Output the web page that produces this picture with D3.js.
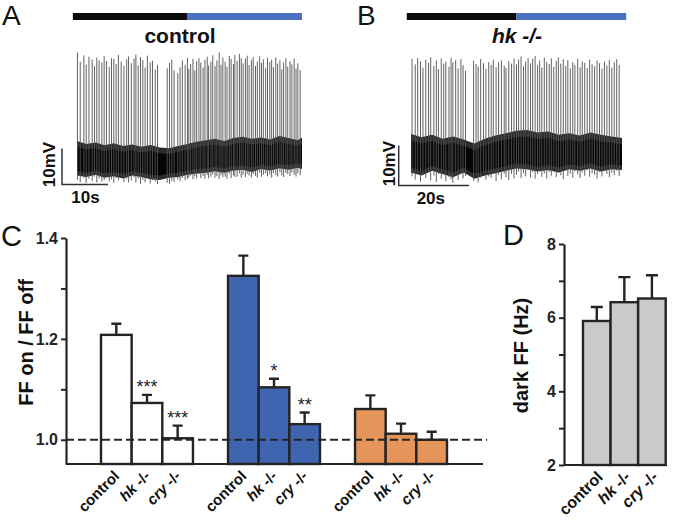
<!DOCTYPE html>
<html><head><meta charset="utf-8">
<script src="https://cdn.jsdelivr.net/npm/d3@7"></script>
<style>
html,body{margin:0;padding:0;background:#fff;}
svg{display:block;font-family:"Liberation Sans",Arial,Helvetica,sans-serif;}
</style></head><body>
<svg id="fig" width="678" height="522"></svg>
<script>
// ---------------- DATA ----------------
// Panel A (control) recording: time in s, membrane potential in mV (relative)
const stimA = [{phase: 'dark', start: -0.9, end: 23.9}, {phase: 'light', start: 23.9, end: 48.9}];
const bandTimesA = [0,2,4,6,8,10,12,14,16,18,20,22,24,26,28,30,32,34,36,38,40,42,44,46,48,48.9];
const bandTopA = [5.0,4.2,4.6,3.8,4.4,3.6,4.0,3.4,3.9,3.2,3.0,3.6,4.2,4.8,5.2,5.6,5.0,5.8,6.2,5.6,6.0,5.4,6.4,5.8,5.2,6.0];
const bandBottomA = [-4.6,-5.0,-4.4,-5.2,-4.8,-5.4,-4.6,-5.0,-5.6,-5.8,-5.2,-5.0,-4.4,-4.0,-3.8,-3.4,-3.8,-3.2,-3.0,-3.6,-2.8,-3.2,-2.6,-3.0,-2.4,-2.8];
const spikeTimesA = [0.1,0.7,1.5,2.0,2.6,3.3,3.8,4.3,4.8,5.4,5.9,6.4,7.0,7.5,8.0,8.5,9.0,9.6,10.2,10.8,11.2,11.8,12.4,12.8,13.3,13.8,14.3,14.8,15.3,15.9,16.4,17.0,17.5,19.6,20.1,20.6,21.1,21.9,22.4,22.9,23.5,24.0,
  24.3,24.7,25.2,25.6,26.0,26.5,26.9,27.4,27.8,28.3,28.6,29.1,29.5,30.0,30.4,30.9,31.3,31.7,32.2,32.6,33.1,33.5,34.0,34.3,34.8,35.3,35.7,36.1,36.6,37.0,37.4,37.9,38.3,38.8,39.2,39.7,40.1,40.5,41.0,41.4,41.9,42.3,42.7,43.2,43.6,44.1,44.5,44.9,45.4,45.8,46.3,46.7,47.2,47.6,48.0,48.5];
const spikePeaksA = [29.6,27.0,28.8,26.2,28.4,27.6,25.8,28.2,27.4,26.8,28.6,27.2,25.6,28.0,27.8,26.4,28.9,27.1,25.9,27.7,28.5,26.6,27.9,29.0,26.0,28.3,27.5,25.4,28.7,26.9,27.3,24.8,26.1,25.2,26.7,27.6,24.6,23.8,25.5,27.4,26.2,28.1,
  25.0,26.4,27.8,24.6,27.2,28.0,26.8,25.4,27.6,28.4,26.0,27.0,28.8,25.8,27.4,29.6,26.2,28.2,27.0,25.6,28.6,27.8,26.4,28.9,27.3,29.2,28.0,26.6,27.9,28.7,26.1,27.5,28.3,25.9,27.1,28.5,26.7,27.7,25.3,28.1,26.9,27.6,25.5,28.2,26.5,27.4,24.9,26.8,28.0,25.7,27.2,26.3,27.9,25.1,26.6,24.7];
const spikeTroughsA = [-5.8,-6.4,-5.2,-6.6,-5.5,-6.1,-4.9,-6.5,-5.4,-6.3,-5.9,-5.0,-6.2,-5.6,-6.6,-5.3,-6.0,-4.8,-6.4,-5.5,-6.5,-6.0,-5.1,-6.6,-5.4,-6.9,-5.8,-6.5,-5.2,-6.8,-5.9,-6.3,-7.0,-6.6,-6.9,-6.1,-6.4,-5.7,-6.2,-5.3,-5.9,-5.5,
  -5.2,-4.6,-5.6,-4.8,-5.4,-4.2,-5.3,-4.7,-5.5,-4.4,-5.4,-4.9,-4.3,-5.2,-4.8,-5.6,-4.5,-5.1,-4.9,-5.5,-4.1,-5.3,-4.6,-5.0,-4.9,-4.0,-5.2,-4.4,-5.0,-4.1,-4.6,-5.1,-4.2,-4.7,-5.2,-3.8,-4.9,-4.4,-4.0,-4.8,-4.3,-5.2,-3.9,-4.5,-4.9,-3.7,-4.6,-5.0,-3.9,-4.2,-4.7,-3.8,-4.4,-4.9,-4.0,-4.5];

// Panel B (hk -/-) recording
const stimB = [{phase: 'dark', start: -1.2, end: 30.0}, {phase: 'light', start: 30.0, end: 61.2}];
const bandTimesB = [0,3,6,9,12,15,18,21,24,27,30,33,36,39,42,45,48,51,54,57,60];
const bandTopB = [4.0,3.2,3.8,2.8,3.4,2.6,1.6,2.8,3.6,4.2,4.8,5.0,4.4,4.6,3.8,4.2,3.6,4.4,3.8,3.4,3.0];
const bandBottomB = [-5.6,-6.4,-5.2,-6.0,-6.8,-5.6,-7.2,-6.4,-5.8,-5.2,-4.6,-4.8,-5.4,-5.0,-5.6,-4.8,-5.2,-4.6,-5.4,-4.8,-5.0];
const spikeTimesB = [0.3,1.2,1.9,2.7,3.4,4.2,5.0,5.6,6.5,7.2,7.8,8.6,9.3,9.9,10.8,11.4,11.9,12.7,13.4,14.2,14.8,15.5,17.8,18.5,19.1,19.8,20.6,21.3,22.1,22.8,23.4,24.2,24.9,25.7,26.5,27.0,27.8,28.6,29.3,
  30.0,30.6,31.3,32.0,32.6,33.3,34.0,34.6,35.3,36.0,36.6,37.2,37.9,38.6,39.3,39.9,40.6,41.3,41.9,42.6,43.3,44.0,44.6,45.3,46.0,46.6,47.4,48.1,48.7,49.4,50.1,50.8,51.5,52.2,52.9,53.6,54.3,55.0,55.7,56.4,57.1,57.8,58.5,59.2];
const spikePeaksB = [22.8,21.4,23.0,22.2,20.6,22.6,21.8,23.2,21.0,22.4,20.2,22.9,21.6,22.1,20.8,23.1,21.9,22.5,20.4,22.7,21.2,19.8,22.3,21.5,20.9,22.8,21.7,20.3,22.0,21.3,22.6,20.7,21.9,22.4,21.1,20.5,22.2,21.6,22.9,
  21.4,22.6,23.4,20.9,22.1,23.0,21.7,22.8,23.5,21.2,22.4,20.6,23.1,22.0,21.5,22.9,20.8,22.3,23.2,21.6,22.7,21.0,22.5,20.4,22.0,21.3,22.8,20.7,22.2,21.8,20.5,22.6,21.4,20.9,22.4,21.7,20.3,22.1,21.1,22.5,20.6,21.9,22.7,21.3];
const spikeTroughsB = [-6.6,-7.4,-5.8,-7.9,-6.2,-7.0,-5.6,-7.6,-6.4,-8.0,-6.0,-7.2,-5.4,-7.8,-6.8,-7.3,-8.2,-6.1,-7.5,-5.9,-7.1,-6.5,-7.7,-6.3,-8.1,-6.9,-5.7,-7.4,-6.6,-7.0,-5.5,-7.8,-6.2,-7.3,-5.9,-6.8,-7.5,-6.0,-7.1,
  -6.2,-5.4,-7.0,-5.8,-6.6,-5.1,-6.9,-5.6,-7.2,-6.0,-5.3,-6.7,-5.9,-7.1,-5.5,-6.4,-5.0,-6.8,-5.7,-6.3,-7.3,-5.2,-6.5,-5.9,-6.9,-5.4,-6.1,-7.0,-5.6,-6.4,-5.1,-6.7,-5.8,-6.2,-7.1,-5.5,-6.6,-5.3,-6.0,-6.8,-5.7,-6.3,-5.2,-6.5];

// Panel C: FF on / FF off
const genotypes = ['control', 'hk -/-', 'cry -/-'];
const lightConditions = ['white', 'blue', 'orange'];
const ratioWhite = [1.208, 1.073, 1.003];
const semWhite = [0.022, 0.016, 0.025];
const sigWhite = ['', '***', '***'];
const ratioBlue = [1.325, 1.104, 1.031];
const semBlue = [0.040, 0.017, 0.023];
const sigBlue = ['', '*', '**'];
const ratioOrange = [1.061, 1.012, 1.000];
const semOrange = [0.027, 0.020, 0.016];
const sigOrange = ['', '', ''];
const ticksC = [1.0, 1.1, 1.2, 1.3, 1.4];
const labelledTicksC = [1.0, 1.2, 1.4];

// Panel D: dark firing frequency (Hz)
const darkFF = [5.91, 6.42, 6.52];
const semDarkFF = [0.38, 0.68, 0.63];
const ticksD = [2, 3, 4, 5, 6, 7, 8];
const labelledTicksD = [2, 4, 6, 8];

// ---------------- STYLE ----------------
const INK = '#242424';
const stimColor = {dark: '#0b0b0b', light: '#4a70bf'};
const barColor = {white: '#ffffff', blue: '#3f64b0', orange: '#e5955a'};
const grayBar = '#c9cacc';

const svg = d3.select('#fig');

// ---------------- TRACES ----------------
function drawTrace(o) {
  const g = svg.append('g');
  const x = o.x, y = o.y;
  g.selectAll('rect.stim').data(o.stim).join('rect')
    .attr('x', d => x(d.start)).attr('width', d => x(d.end) - x(d.start))
    .attr('y', 13).attr('height', 7)
    .attr('fill', d => stimColor[d.phase]);
  const t = g.append('text').attr('x', o.titleX).attr('y', 42.5)
    .attr('text-anchor', 'middle').attr('font-size', 21).attr('font-weight', 'bold')
    .attr('fill', '#111').text(o.title);
  if (o.italic) t.attr('font-style', 'italic');
  const band = o.bandT.map((tt, i) => ({t: tt, top: o.bandTop[i], bot: o.bandBot[i]}));
  g.append('path').datum(band)
    .attr('d', d3.area().x(d => x(d.t)).y0(d => y(d.bot)).y1(d => y(d.top)))
    .attr('fill', '#2b2b2b');
  g.append('path').datum(band)
    .attr('d', d3.area().x(d => x(d.t)).y0(d => y(d.bot + 1.2)).y1(d => y(d.top - 1.6)))
    .attr('fill', '#050505');
  const spikes = o.spT.map((tt, i) => ({t: tt, p: o.spP[i], v: o.spV[i]}));
  g.selectAll('line.sp').data(spikes).join('line')
    .attr('x1', d => x(d.t)).attr('x2', d => x(d.t))
    .attr('y1', d => y(d.v)).attr('y2', d => y(d.p))
    .attr('stroke', '#505050').attr('stroke-width', 0.9);
  const sb = o.scale;
  g.append('path')
    .attr('d', `M${x(sb.t0)},${y(sb.v0 + sb.dv)}V${y(sb.v0)}H${x(sb.t0 + sb.dt)}`)
    .attr('fill', 'none').attr('stroke', '#333').attr('stroke-width', 1.5);
  g.append('text')
    .attr('transform', `translate(${x(sb.t0) - o.mvGap},${(y(sb.v0) + y(sb.v0 + sb.dv)) / 2 - 2}) rotate(-90)`)
    .attr('text-anchor', 'middle').attr('font-size', 17).attr('font-weight', 'bold').attr('fill', '#111')
    .text(sb.dv + 'mV');
  g.append('text')
    .attr('x', (x(sb.t0) + x(sb.t0 + sb.dt)) / 2 + o.sGap).attr('y', y(sb.v0) + 18.5)
    .attr('text-anchor', 'middle').attr('font-size', 17).attr('font-weight', 'bold').attr('fill', '#111')
    .text(sb.dt + 's');
}

drawTrace({
  x: d3.scaleLinear().domain([0, 48.9]).range([77, 302]),
  y: d3.scaleLinear().domain([-10, 30]).range([195, 51]),
  stim: stimA, title: 'control', titleX: 180, italic: false,
  bandT: bandTimesA, bandTop: bandTopA, bandBot: bandBottomA,
  spT: spikeTimesA, spP: spikePeaksA, spV: spikeTroughsA,
  scale: {t0: -3.26, v0: -7.1, dt: 10, dv: 10}, mvGap: 7, sGap: 0.5
});
drawTrace({
  x: d3.scaleLinear().domain([0, 60]).range([411, 622]),
  y: d3.scaleLinear().domain([-10, 25]).range([190, 50]),
  stim: stimB, title: 'hk -/-', titleX: 517, italic: true,
  bandT: bandTimesB, bandTop: bandTopB, bandBot: bandBottomB,
  spT: spikeTimesB, spP: spikePeaksB, spV: spikeTroughsB,
  scale: {t0: -3.5, v0: -8.9, dt: 20, dv: 10}, mvGap: 4, sGap: -3
});

// ---------------- PANEL LETTERS ----------------
[['A', 2, 25, 28], ['B', 357, 25, 28], ['C', 1, 246, 29], ['D', 503, 245, 29]].forEach(([l, px, py, fs]) => {
  svg.append('text').attr('x', px).attr('y', py).attr('font-size', fs).attr('fill', '#111').text(l);
});

function genotypeLabel(sel, name) {
  const parts = name.split(' ');
  if (parts.length > 1) {
    sel.append('tspan').attr('font-style', 'italic').text(parts[0]);
    sel.append('tspan').text(' ' + parts.slice(1).join(' '));
  } else {
    sel.text(name);
  }
}

function styleAxis(ax) {
  ax.select('.domain').attr('stroke', INK).attr('stroke-width', 2.2);
  ax.selectAll('.tick line').attr('stroke', INK).attr('stroke-width', 2);
  ax.selectAll('.tick text').attr('font-size', 16).attr('font-weight', 'bold').attr('fill', INK)
    .attr('font-family', '"Liberation Sans",Arial,sans-serif');
}

// ---------------- PANEL C ----------------
{
  const yC = d3.scaleLinear().domain([0.952, 1.4]).range([464, 238]);
  const xGroup = d3.scaleBand().domain(lightConditions).range([101, 447]).paddingInner(0.276).paddingOuter(0);
  const xInner = d3.scaleBand().domain(genotypes).range([0, xGroup.bandwidth()]);
  const series = {white: [ratioWhite, semWhite, sigWhite], blue: [ratioBlue, semBlue, sigBlue], orange: [ratioOrange, semOrange, sigOrange]};
  const rows = [];
  lightConditions.forEach(c => genotypes.forEach((gt, i) => rows.push({c, gt, v: series[c][0][i], e: series[c][1][i], s: series[c][2][i]})));
  const g = svg.append('g');
  const base = yC.domain()[0];
  g.selectAll('rect.bar').data(rows).join('rect')
    .attr('x', d => xGroup(d.c) + xInner(d.gt)).attr('width', xInner.bandwidth())
    .attr('y', d => yC(d.v)).attr('height', d => yC(base) - yC(d.v))
    .attr('fill', d => barColor[d.c]).attr('stroke', INK).attr('stroke-width', 2.4);
  g.append('line').attr('x1', 66).attr('x2', 487).attr('y1', yC(1.0)).attr('y2', yC(1.0))
    .attr('stroke', INK).attr('stroke-width', 2).attr('stroke-dasharray', '8,4');
  const cx = d => xGroup(d.c) + xInner(d.gt) + xInner.bandwidth() / 2;
  g.selectAll('path.err').data(rows).join('path')
    .attr('d', d => `M${cx(d)},${yC(d.v)}V${yC(d.v + d.e)}M${cx(d) - 5},${yC(d.v + d.e)}H${cx(d) + 5}`)
    .attr('fill', 'none').attr('stroke', INK).attr('stroke-width', 2.4);
  g.selectAll('text.sig').data(rows.filter(d => d.s)).join('text')
    .attr('x', d => cx(d)).attr('y', d => yC(d.v + d.e) - 2)
    .attr('text-anchor', 'middle').attr('font-size', 18).attr('fill', INK).text(d => d.s);
  g.append('line').attr('x1', 66).attr('x2', 483).attr('y1', yC(base)).attr('y2', yC(base))
    .attr('stroke', INK).attr('stroke-width', 2.2);
  const ax = g.append('g').attr('transform', 'translate(66,0)')
    .call(d3.axisLeft(yC).tickValues(ticksC).tickSize(5).tickSizeOuter(0).tickPadding(3)
      .tickFormat(d => labelledTicksC.some(v => Math.abs(v - d) < 1e-9) ? d3.format('.1f')(d) : ''));
  styleAxis(ax);
  g.selectAll('text.xl').data(rows).join('text')
    .attr('transform', d => `translate(${cx(d) + 4},477) rotate(-45)`)
    .attr('text-anchor', 'end').attr('font-size', 15).attr('font-weight', 'bold').attr('fill', '#111')
    .each(function (d) { genotypeLabel(d3.select(this), d.gt); });
  g.append('text').attr('transform', 'translate(33,342.5) rotate(-90)')
    .attr('text-anchor', 'middle').attr('font-size', 20).attr('font-weight', 'bold').attr('fill', '#111')
    .text('FF on / FF off');
}

// ---------------- PANEL D ----------------
{
  const yD = d3.scaleLinear().domain([2, 8]).range([465, 244]);
  const xD = d3.scaleBand().domain(genotypes).range([583, 665.7]);
  const rows = genotypes.map((gt, i) => ({gt, v: darkFF[i], e: semDarkFF[i]}));
  const g = svg.append('g');
  const base = yD.domain()[0];
  g.selectAll('rect').data(rows).join('rect')
    .attr('x', d => xD(d.gt)).attr('width', xD.bandwidth())
    .attr('y', d => yD(d.v)).attr('height', d => yD(base) - yD(d.v))
    .attr('fill', grayBar).attr('stroke', INK).attr('stroke-width', 2.4);
  const cx = d => xD(d.gt) + xD.bandwidth() / 2;
  g.selectAll('path.err').data(rows).join('path')
    .attr('d', d => `M${cx(d)},${yD(d.v)}V${yD(d.v + d.e)}M${cx(d) - 6},${yD(d.v + d.e)}H${cx(d) + 6}`)
    .attr('fill', 'none').attr('stroke', INK).attr('stroke-width', 2.4);
  g.append('line').attr('x1', 564).attr('x2', 667).attr('y1', yD(base)).attr('y2', yD(base))
    .attr('stroke', INK).attr('stroke-width', 2.2);
  const ax = g.append('g').attr('transform', 'translate(564,0)')
    .call(d3.axisLeft(yD).tickValues(ticksD).tickSize(5).tickSizeOuter(0).tickPadding(3)
      .tickFormat(d => labelledTicksD.includes(d) ? String(d) : ''));
  styleAxis(ax);
  g.selectAll('text.xl').data(rows).join('text')
    .attr('transform', d => `translate(${cx(d) + 7},478) rotate(-45)`)
    .attr('text-anchor', 'end').attr('font-size', 16).attr('font-weight', 'bold').attr('fill', '#111')
    .each(function (d) { genotypeLabel(d3.select(this), d.gt); });
  g.append('text').attr('transform', 'translate(528,355.5) rotate(-90)')
    .attr('text-anchor', 'middle').attr('font-size', 20).attr('font-weight', 'bold').attr('fill', '#111')
    .text('dark FF (Hz)');
}
</script>
</body></html>
